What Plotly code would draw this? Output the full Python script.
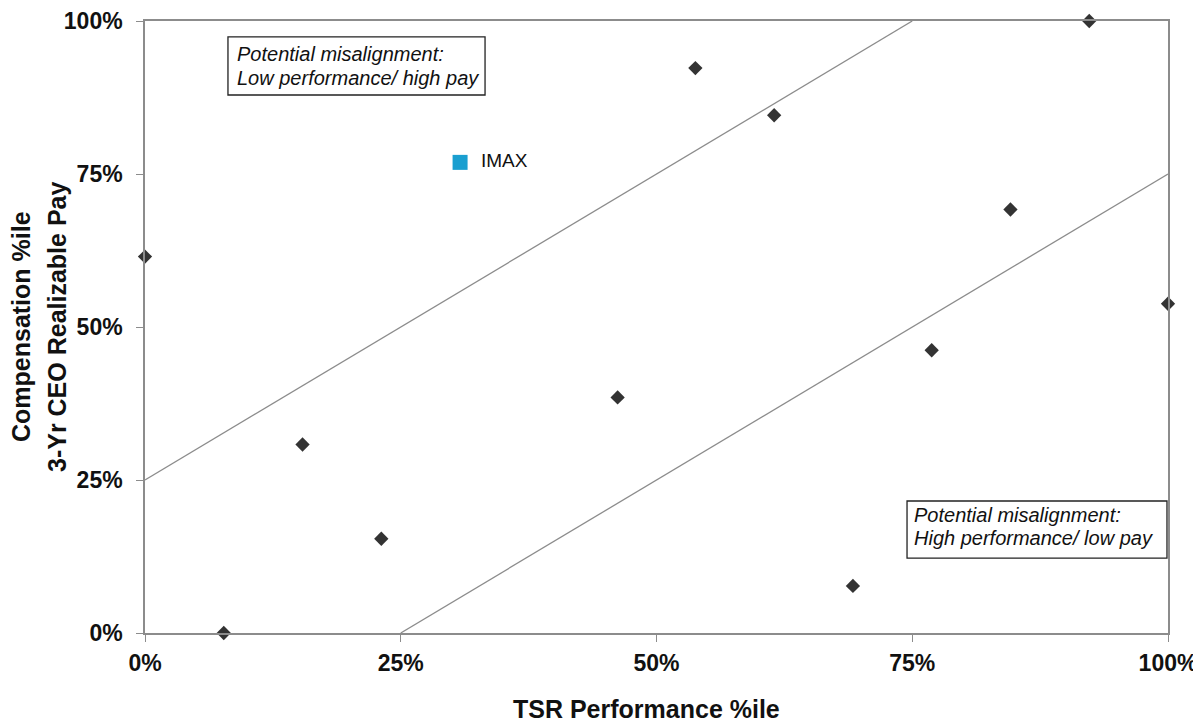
import plotly.graph_objects as go

# Peer data (TSR percentile, realizable pay percentile)
peer_tsr = [0.0, 7.7, 15.4, 23.1, 46.2, 53.8, 61.5, 69.2, 76.9, 84.6, 92.3, 100.0]
peer_pay = [61.5, 0.0, 30.8, 15.4, 38.5, 92.3, 84.6, 7.7, 46.2, 69.2, 100.0, 53.8]

company_name = "IMAX"
company_tsr = [30.8]
company_pay = [76.9]

# Alignment band boundaries
upper_x = [0, 75]
upper_y = [25, 100]
lower_x = [25, 100]
lower_y = [0, 75]

tick_vals = [0, 25, 50, 75, 100]
tick_text = ["0%", "25%", "50%", "75%", "100%"]

x_title = "TSR Performance %ile"
y_title_lines = ["Compensation %ile", "3-Yr CEO Realizable Pay"]
box_low_perf = ["Potential misalignment:", "Low performance/ high pay"]
box_high_perf = ["Potential misalignment:", "High performance/ low pay"]

FONT = "Liberation Sans, Arial, sans-serif"
TXT = "#111111"

fig = go.Figure()
fig.add_trace(go.Scatter(x=upper_x, y=upper_y, mode="lines",
                         line=dict(color="#8c8c8c", width=1.3), showlegend=False, hoverinfo="skip"))
fig.add_trace(go.Scatter(x=lower_x, y=lower_y, mode="lines",
                         line=dict(color="#8c8c8c", width=1.3), showlegend=False, hoverinfo="skip"))
fig.add_trace(go.Scatter(x=peer_tsr, y=peer_pay, mode="markers",
                         marker=dict(symbol="diamond", size=11, color="#333333"),
                         showlegend=False, cliponaxis=False))
fig.add_trace(go.Scatter(x=company_tsr, y=company_pay, mode="markers+text",
                         marker=dict(symbol="square", size=15, color="#1a9fd0"),
                         text=["  " + company_name], textposition="middle right",
                         textfont=dict(family=FONT, size=19, color=TXT),
                         showlegend=False, cliponaxis=False))

axis_common = dict(
    range=[0, 100], tickvals=tick_vals,
    ticktext=["<b>%s</b>" % t for t in tick_text],
    showgrid=False, zeroline=False, showline=True, linecolor="#8c8c8c", linewidth=1.5,
    ticks="outside", ticklen=7, tickcolor="#8c8c8c", mirror=True, automargin=False,
    tickfont=dict(family=FONT, size=23, color=TXT),
)

fig.update_layout(
    width=1201, height=722,
    margin=dict(l=137, r=41, t=13, b=97),
    paper_bgcolor="white", plot_bgcolor="white",
    font=dict(family=FONT),
    xaxis=dict(**axis_common, ticklabelstandoff=2),
    yaxis=dict(**axis_common, ticklabelstandoff=9),
)

# Axis titles
fig.add_annotation(x=0.4907, y=-0.1242, xref="paper", yref="paper",
                   xanchor="center", yanchor="middle", showarrow=False,
                   text="<b>%s</b>" % x_title,
                   font=dict(family=FONT, size=25, color=TXT))
for xp, line in zip([-0.1212, -0.0860], y_title_lines):
    fig.add_annotation(x=xp, y=0.5, xref="paper", yref="paper",
                       xanchor="center", yanchor="middle", showarrow=False,
                       textangle=-90, text="<b>%s</b>" % line,
                       font=dict(family=FONT, size=25, color=TXT))

# Misalignment boxes
fig.add_shape(type="rect", xref="paper", yref="paper",
              x0=0.0811, x1=0.3324, y0=0.8791, y1=0.9739,
              line=dict(color="#222222", width=1.3), fillcolor="white", layer="above")
fig.add_shape(type="rect", xref="paper", yref="paper",
              x0=0.7449, x1=0.9990, y0=0.1225, y1=0.2157,
              line=dict(color="#222222", width=1.3), fillcolor="white", layer="above")

for yp, line in zip([0.9466, 0.9069], box_low_perf):
    fig.add_annotation(x=0.0880, y=yp, xref="paper", yref="paper",
                       xanchor="left", yanchor="middle", showarrow=False,
                       text="<i>%s</i>" % line,
                       font=dict(family=FONT, size=20, color=TXT))
for yp, line in zip([0.1928, 0.1552], box_high_perf):
    fig.add_annotation(x=0.7498, y=yp, xref="paper", yref="paper",
                       xanchor="left", yanchor="middle", showarrow=False,
                       text="<i>%s</i>" % line,
                       font=dict(family=FONT, size=20, color=TXT))

fig.write_html("out.html")
